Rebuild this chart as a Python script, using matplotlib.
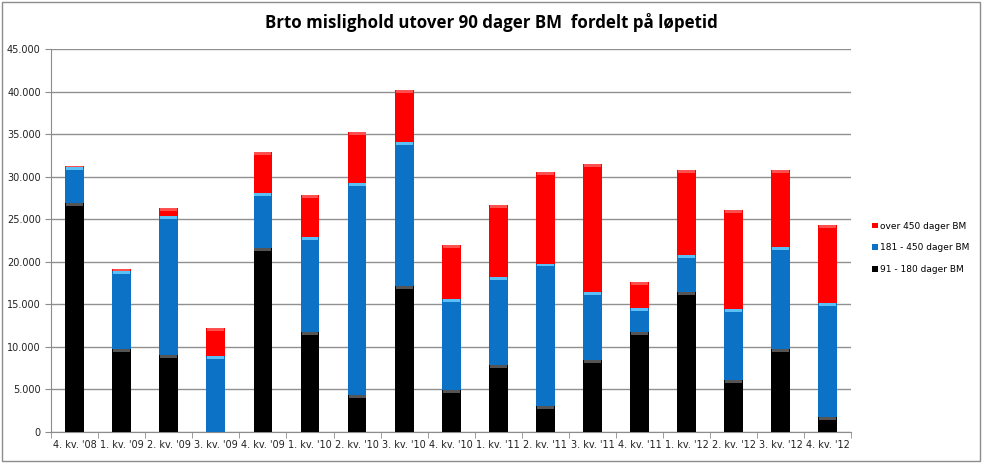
import matplotlib
matplotlib.use("Agg")
import matplotlib.pyplot as plt
from matplotlib.ticker import FuncFormatter, FixedLocator
from matplotlib.patches import Rectangle
import numpy as np

categories = ["4. kv. '08", "1. kv. '09", "2. kv. '09", "3. kv. '09", "4. kv. '09",
              "1. kv. '10", "2. kv. '10", "3. kv. '10", "4. kv. '10", "1. kv. '11",
              "2. kv. '11", "3. kv. '11", "4. kv. '11", "1. kv. '12", "2. kv. '12",
              "3. kv. '12", "4. kv. '12"]
s_91_180 = [26900, 9700, 9100, 0, 21600, 11700, 4400, 17200, 4900, 7900,
            3000, 8450, 11700, 16500, 6100, 9750, 1800]
s_181_450 = [4200, 9250, 16300, 8900, 6500, 11200, 24900, 16900, 10700, 10350,
             16800, 8050, 2900, 4300, 8300, 11950, 13400]
s_over_450 = [200, 200, 950, 3350, 4800, 4950, 6000, 6100, 6400, 8450,
              10750, 15050, 3000, 9950, 11700, 9050, 9150]
series_names = ["91 - 180 dager BM", "181 - 450 dager BM", "over 450 dager BM"]
colors = ["#000000", "#0B72C6", "#FF0000"]
cap_colors = ["#555555", "#5BC0F5", "#FF5050"]
title = "Brto mislighold utover 90 dager BM  fordelt på løpetid"

fig = plt.figure(figsize=(9.83, 4.63), dpi=100)
fig.patches.append(Rectangle((0.002, 0.004), 0.995, 0.992, transform=fig.transFigure,
                             fill=False, edgecolor="#8c8c8c", linewidth=1.0))
ax = fig.add_axes([0.052, 0.067, 0.814, 0.827])

x = np.arange(len(categories))
width = 0.4
bottom = np.zeros(len(categories))
handles = []
for vals, col, cap, name in zip([s_91_180, s_181_450, s_over_450], colors, cap_colors, series_names):
    v = np.array(vals, dtype=float)
    h = ax.bar(x, v, width, bottom=bottom, color=col, label=name, zorder=3, linewidth=0)
    capv = np.where(v > 0, np.minimum(350, v), 0)
    ax.bar(x, capv, width * 0.9, bottom=bottom + v - capv, color=cap, zorder=4, linewidth=0)
    handles.append(h)
    bottom += v

ax.set_xlim(-0.5, len(categories) - 0.5)
ax.set_ylim(0, 45000)
ax.set_yticks(np.arange(0, 45001, 5000))
ax.yaxis.set_major_formatter(FuncFormatter(lambda v, p: f"{int(v):,}".replace(",", ".")))
ax.set_xticks(x)
ax.set_xticklabels(categories)
ax.xaxis.set_minor_locator(FixedLocator(np.arange(-0.5, len(categories), 1)))
ax.tick_params(axis="x", which="major", length=0, labelsize=7, pad=6, labelcolor="#222222")
ax.tick_params(axis="x", which="minor", length=4, color="#8c8c8c", direction="out")
ax.tick_params(axis="y", length=4, color="#8c8c8c", labelsize=7, direction="out", labelcolor="#222222")
ax.grid(axis="y", color="#909090", linewidth=1.0, zorder=0)
for s in ["top", "right"]:
    ax.spines[s].set_visible(False)
for s in ["left", "bottom"]:
    ax.spines[s].set_color("#8c8c8c")

fig.text(0.5, 0.952, title, ha="center", va="center", fontsize=12.2, fontweight="bold",
         family="Open Sans")

leg = fig.legend(handles[::-1], series_names[::-1], loc="center left",
                 bbox_to_anchor=(0.879, 0.465), frameon=False, fontsize=6.5,
                 handlelength=0.6, handleheight=0.6, labelspacing=1.4, handletextpad=0.3)

fig.savefig("out.png", dpi=100)
